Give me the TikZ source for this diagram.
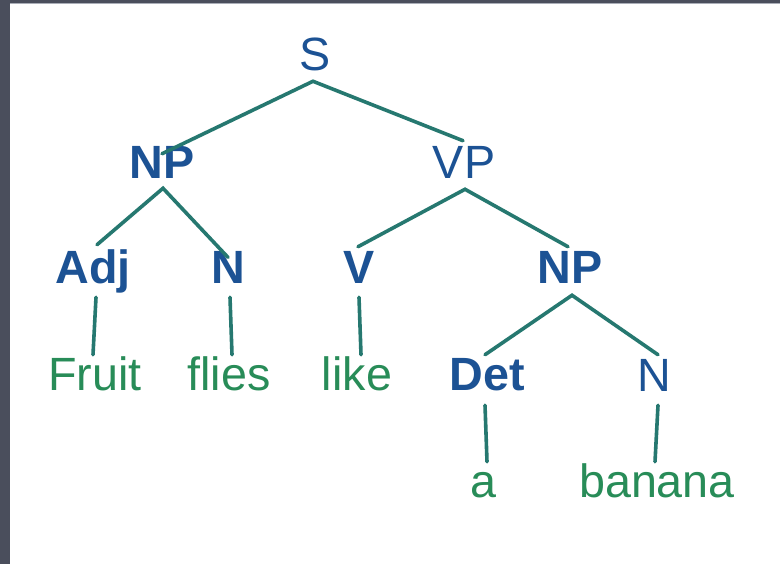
\documentclass[tikz,border=0pt]{standalone}
\usepackage{fontspec}
\setmainfont{Liberation Sans}
\definecolor{bggray}{RGB}{74,78,92}
\definecolor{bgline}{RGB}{170,174,184}
\definecolor{catblue}{RGB}{28,82,148}
\definecolor{wordgreen}{RGB}{40,140,88}
\definecolor{edgeteal}{RGB}{38,120,112}
\begin{document}
\begin{tikzpicture}[x=0.75pt,y=-0.75pt,
  cat/.style={font=\fontsize{35}{40}\selectfont\bfseries, text=catblue, anchor=base, inner sep=0pt, text height=24pt, text depth=0pt},
  catr/.style={cat, font=\fontsize{35}{40}\selectfont},
  word/.style={catr, text=wordgreen},
  edge/.style={draw=edgeteal, line width=2.7pt, line cap=round, line join=miter}]
\useasboundingbox (0,0) rectangle (780,564);
\fill[bggray] (0,0) rectangle (780,564);
\fill[bgline] (10,2.5) rectangle (780,4.5);
\fill[white] (10,4) rectangle (780,564);

% category nodes
\node[catr] (S) at (315,70) {S};
\node[cat]  (NPa) at (162,178) {NP};
\node[catr] (VP) at (464,178) {VP};
\node[cat]  (Adj) at (93,283) {Adj};
\node[cat]  (Na) at (228,283) {N};
\node[cat]  (V) at (359,283) {V};
\node[cat]  (NPb) at (570,283) {NP};
\node[cat]  (Det) at (487,390) {Det};
\node[catr] (Nb) at (654,391) {N};

% words
\node[word] (fruit) at (95,390) {Fruit};
\node[word] (flies) at (229,390) {flies};
\node[word] (like) at (357,390) {like};
\node[word] (a) at (483,497) {a};
\node[word] (banana) at (657,497) {banana};

% edges
\draw[edge] ([yshift=-6pt]NPa.north) -- ([shift={(-2,11)}]S.south) -- ([shift={(-1,-5)}]VP.north);
\draw[edge] ([shift={(4,-6)}]Adj.north) -- ([shift={(1,10)}]NPa.south) -- ([yshift=-5]Na.north);
\draw[edge] ([shift={(-1,-4)}]V.north) -- ([shift={(1,11)}]VP.south) -- ([shift={(-2,-4)}]NPb.north);
\draw[edge] ([shift={(-2,-3)}]Det.north) -- ([shift={(2,12)}]NPb.south) -- ([shift={(4,-4)}]Nb.north);
\draw[edge] ([shift={(3,14)}]Adj.south) -- ([shift={(-2,-3)}]fruit.north);
\draw[edge] ([shift={(2,14)}]Na.south) -- ([shift={(3,-3)}]flies.north);
\draw[edge] ([shift={(0,14)}]V.south) -- ([shift={(4,-3)}]like.north);
\draw[edge] ([shift={(-2,15)}]Det.south) -- ([shift={(4,-3)}]a.north);
\draw[edge] ([shift={(4,14)}]Nb.south) -- ([shift={(-2,-3)}]banana.north);
\end{tikzpicture}
\end{document}
